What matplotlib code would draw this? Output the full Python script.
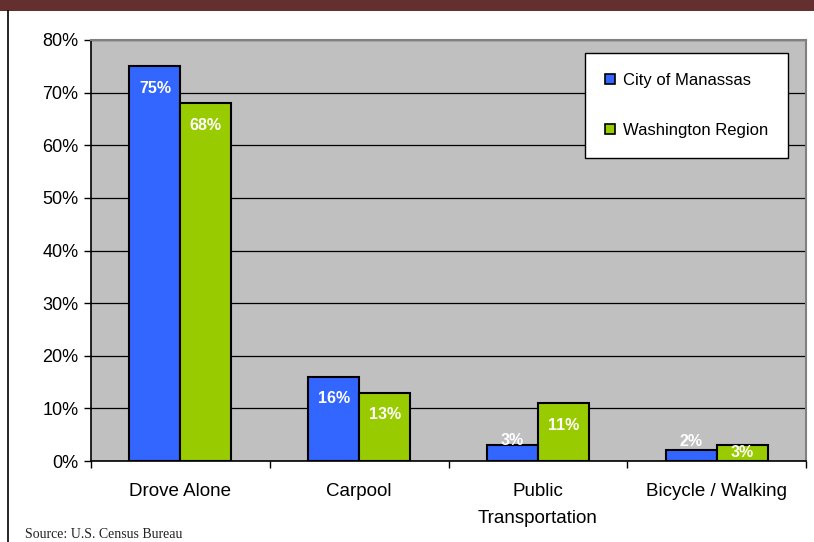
import matplotlib.pyplot as plt
from matplotlib.patches import Patch, Rectangle
from matplotlib.lines import Line2D
import numpy as np

# Commute mode share (%)
categories = ['Drove Alone', 'Carpool', 'Public\nTransportation', 'Bicycle / Walking']
manassas = [75, 16, 3, 2]
washington = [68, 13, 11, 3]
series_names = ['City of Manassas', 'Washington Region']
yticks = [0, 10, 20, 30, 40, 50, 60, 70, 80]

plt.rcParams['font.family'] = ['Liberation Sans', 'DejaVu Sans']

W, H = 814, 542
fig = plt.figure(figsize=(W / 100, H / 100), dpi=100)

# maroon band on top and the thin rule down the left side
fig.patches.append(Rectangle((0, 1 - 11 / H), 1, 11 / H, transform=fig.transFigure,
                             facecolor='#63302f', edgecolor='none'))
fig.lines.append(Line2D([8 / W, 8 / W], [0, 1 - 11 / H], transform=fig.transFigure,
                        color='black', linewidth=1.2))

ax = fig.add_axes([91 / W, (H - 461) / H, 715 / W, 421 / H])
ax.set_facecolor('#c0c0c0')

x = np.arange(len(categories))
w = 0.285
colors = ['#3366ff', '#99cc00']
b1 = ax.bar(x - w / 2, manassas, w, color=colors[0], edgecolor='black', linewidth=1.5, zorder=3)
b2 = ax.bar(x + w / 2, washington, w, color=colors[1], edgecolor='black', linewidth=1.5, zorder=3)

# value labels: inside the bar for tall bars, small ones nudged as in the original
def label_bars(bars, vals, offsets):
    for bar, v, off in zip(bars, vals, offsets):
        ax.annotate(f'{v}%', (bar.get_x() + bar.get_width() / 2, bar.get_height()),
                    xytext=(0, off), textcoords='offset pixels',
                    ha='center', va='center', color='white', fontsize=11.5,
                    fontweight='bold', zorder=5)

label_bars(b1, manassas, [-22, -22, 5, 9])
label_bars(b2, washington, [-22, -22, -22, -7])

ax.set_xlim(-0.5, len(categories) - 0.5)
ax.set_ylim(0, 80)
ax.set_yticks(yticks)
ax.set_yticklabels([f'{t}%' for t in yticks], fontsize=13)
ax.yaxis.grid(True, color='black', linewidth=0.9, zorder=1)
ax.set_axisbelow(True)

ax.set_xticks(x)
ax.set_xticklabels(categories, fontsize=13.5, linespacing=1.75)
ax.tick_params(axis='x', length=0, pad=16)
ax.set_xticks(np.arange(len(categories) + 1) - 0.5, minor=True)
ax.tick_params(axis='x', which='minor', length=5, width=1)
ax.tick_params(axis='y', length=5, width=1, pad=4)

for side in ['left', 'bottom']:
    ax.spines[side].set_color('black')
    ax.spines[side].set_linewidth(1.2)
for side in ['top', 'right']:
    ax.spines[side].set_color('#808080')
    ax.spines[side].set_linewidth(1.5)

handles = [Patch(facecolor=c, edgecolor='black', linewidth=1.2) for c in colors]
leg = ax.legend(handles, series_names, loc='upper right', bbox_to_anchor=(0.975, 0.969),
                fontsize=12, frameon=True, fancybox=False, framealpha=1,
                edgecolor='black', handlelength=0.6, handleheight=0.6,
                handletextpad=0.5, labelspacing=2.1, borderpad=1.2, borderaxespad=0)
leg.get_frame().set_linewidth(1.0)

fig.text(25 / W, 1 / H, 'Source: U.S. Census Bureau', fontsize=10,
         family=['Liberation Serif', 'DejaVu Serif'], color='#222222', va='bottom')

fig.savefig('out.png', dpi=100)
